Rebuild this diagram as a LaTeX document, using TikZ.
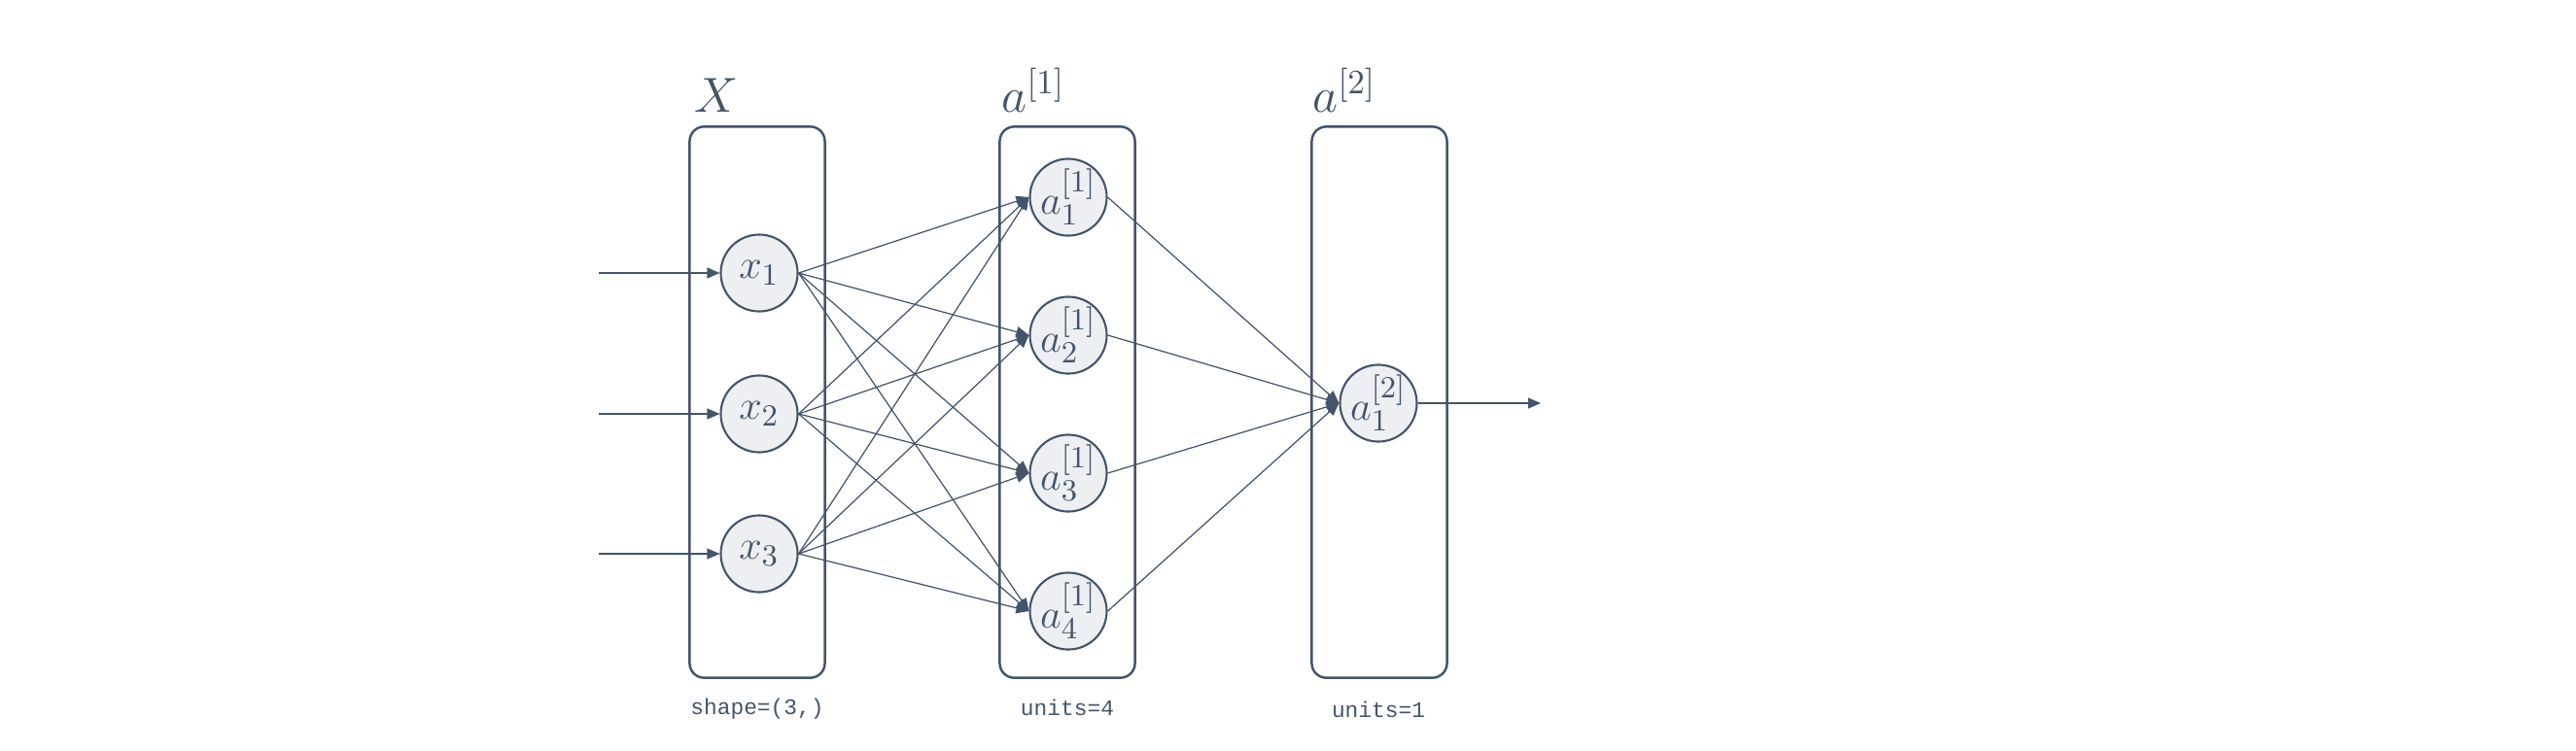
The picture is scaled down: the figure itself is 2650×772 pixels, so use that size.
\documentclass[tikz,border=0pt]{standalone}
\usepackage{fontspec}
\setmonofont{Liberation Mono}
\usetikzlibrary{arrows.meta}
\definecolor{slate}{HTML}{44546A}
\definecolor{unitfill}{HTML}{EDEFF3}

\begin{document}
\begin{tikzpicture}[>={Triangle[length=1.3mm,width=1.1mm]}, x=0.01cm, y=-0.01cm,
    layer/.style={draw=slate, line width=0.7pt, rounded corners=1.5mm, minimum width=1.39cm, minimum height=5.67cm, inner sep=0},
    unit/.style={circle, draw=slate, fill=unitfill, line width=0.6pt, minimum size=0.79cm, inner sep=-4pt, text=slate, font=\fontsize{13}{15}\selectfont},
    wire/.style={->, draw=slate, line width=0.35pt},
    title/.style={anchor=base west, inner sep=0, text=slate, font=\fontsize{14}{16}\selectfont},
    note/.style={inner sep=0, text=slate, font=\ttfamily\fontsize{6.5}{8}\selectfont}]

    \useasboundingbox (0,0) rectangle (2650,772);

    % Layers
    \node[layer] (boxX) at (779,414) {};
    \node[layer] (boxA) at (1098,414) {};
    \node[layer] (boxB) at (1419,414) {};

    \node[title] (titleX) at (714,115) {$X$};
    \node[title] (titleA) at (1030,115) {$a^{[1]}$};
    \node[title] (titleB) at (1350,115) {$a^{[2]}$};

    \node[note] (noteX) at (779,730) {shape=(3,)};
    \node[note] (noteA) at (1098,728) {units=4};
    \node[note] (noteB) at (1418,730) {units=1};

    % Units
    \node[unit] (x1) at (781,281) {$x_1$};
    \node[unit] (x2) at (781,426) {$x_2$};
    \node[unit] (x3) at (781,570) {$x_3$};

    \node[unit] (a11) at (1099,203) {$a_1^{[1]}$};
    \node[unit] (a12) at (1099,345) {$a_2^{[1]}$};
    \node[unit] (a13) at (1099,487) {$a_3^{[1]}$};
    \node[unit] (a14) at (1099,629) {$a_4^{[1]}$};

    \node[unit] (a21) at (1418,415) {$a_1^{[2]}$};

    % Inputs and output
    \coordinate (in1) at (616,281);
    \coordinate (in2) at (616,426);
    \coordinate (in3) at (616,570);
    \coordinate (out) at (1585,415);

    \draw[wire] (in1) -- (x1.west);
    \draw[wire] (in2) -- (x2.west);
    \draw[wire] (in3) -- (x3.west);
    \draw[wire] (a21.east) -- (out);

    % Weights
    \draw[wire] (x1.east) -- (a11.west);
    \draw[wire] (x1.east) -- (a12.west);
    \draw[wire] (x1.east) -- (a13.west);
    \draw[wire] (x1.east) -- (a14.west);
    \draw[wire] (x2.east) -- (a11.west);
    \draw[wire] (x2.east) -- (a12.west);
    \draw[wire] (x2.east) -- (a13.west);
    \draw[wire] (x2.east) -- (a14.west);
    \draw[wire] (x3.east) -- (a11.west);
    \draw[wire] (x3.east) -- (a12.west);
    \draw[wire] (x3.east) -- (a13.west);
    \draw[wire] (x3.east) -- (a14.west);

    \draw[wire] (a11.east) -- (a21.west);
    \draw[wire] (a12.east) -- (a21.west);
    \draw[wire] (a13.east) -- (a21.west);
    \draw[wire] (a14.east) -- (a21.west);
\end{tikzpicture}
\end{document}
